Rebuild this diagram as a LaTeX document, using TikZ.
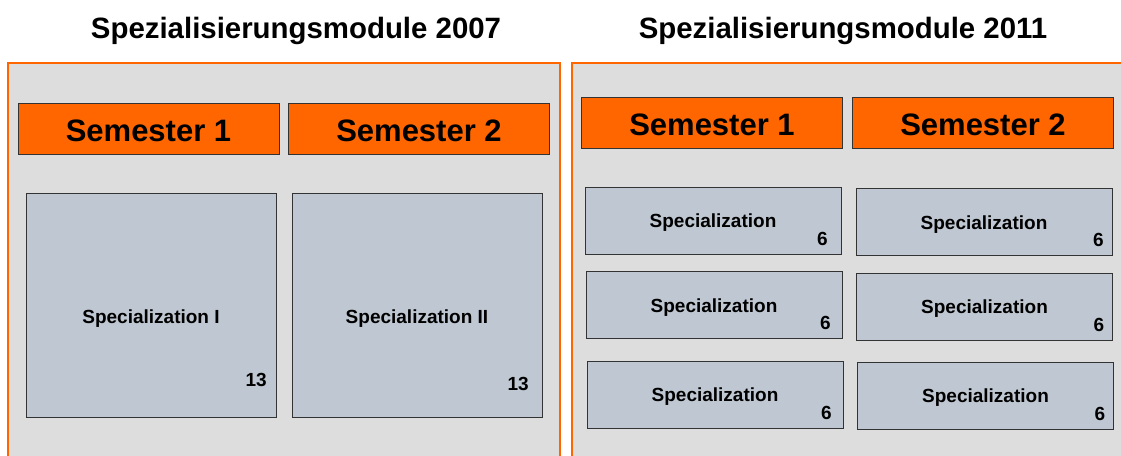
\documentclass[tikz,border=0pt]{standalone}
\usepackage{fontspec}
\setmainfont{Liberation Sans}
\definecolor{orng}{HTML}{FF6600}
\definecolor{panelgrey}{HTML}{DDDDDD}
\definecolor{boxblue}{HTML}{BFC8D2}
\definecolor{edge}{HTML}{333333}
\tikzset{
  panel/.style={draw=orng, line width=2pt, fill=panelgrey, inner sep=0, outer sep=0, anchor=north west},
  title/.style={font=\bfseries\fontsize{29.4}{34}\selectfont, anchor=base, inner sep=0},
  sem/.style={draw=edge, line width=1pt, fill=orng, inner sep=0, outer sep=0,
    minimum width=261pt, minimum height=51pt, text height=25pt, text depth=0pt,
    font=\bfseries\fontsize{31}{36}\selectfont},
  spec/.style={draw=edge, line width=1pt, fill=boxblue, inner sep=0, outer sep=0,
    minimum width=256pt, minimum height=67pt, text height=14pt, text depth=0pt,
    font=\bfseries\fontsize{19}{23}\selectfont},
  bigspec/.style={draw=edge, line width=1pt, fill=boxblue, inner sep=0, outer sep=0,
    minimum width=250pt, minimum height=224pt},
  lbl/.style={font=\bfseries\fontsize{19}{23}\selectfont, inner sep=0, anchor=base},
  credit/.style={font=\bfseries\fontsize{19}{23}\selectfont, inner sep=0, anchor=base east}
}
\begin{document}
\begin{tikzpicture}[x=1pt,y=-1pt]
\useasboundingbox (0,0) rectangle (1121,455);
\fill[white] (0,0) rectangle (1121,455);
% titles
\node[title] (t1) at (296,38) {Spezialisierungsmodule 2007};
\node[title] (t2) at (843,38) {Spezialisierungsmodule 2011};
% panels
\node[panel, minimum width=552pt, minimum height=410pt] (p1) at (8,63) {};
\node[panel, minimum width=560pt, minimum height=410pt] (p2) at (572,63) {};
% left panel semesters
\node[sem] (l1) at (148.5,128.5) {Semester 1};
\node[sem] (l2) at (419,129) {Semester 2};
% right panel semesters
\node[sem] (r1) at (712,122.5) {Semester 1};
\node[sem] (r2) at (983,122.5) {Semester 2};
% left big boxes
\node[bigspec] (s1) at (151,305) {};
\node[lbl] at ([yshift=-18pt]s1.center) {Specialization I};
\node[credit] at ([xshift=-9pt,yshift=31pt]s1.south east) {13};
\node[bigspec] (s2) at (417,305.5) {};
\node[lbl] at ([yshift=-18pt]s2.center) {Specialization II};
\node[credit] at ([xshift=-13pt,yshift=27pt]s2.south east) {13};
% right small boxes
\node[spec] (a1) at (713,220.5) {Specialization};
\node[credit] at ([xshift=-13pt,yshift=9pt]a1.south east) {6};
\node[spec] (a2) at (714,305) {Specialization};
\node[credit] at ([xshift=-11pt,yshift=9pt]a2.south east) {6};
\node[spec] (a3) at (715,394.5) {Specialization};
\node[credit] at ([xshift=-11pt,yshift=9pt]a3.south east) {6};
\node[spec] (b1) at (984,222) {Specialization};
\node[credit] at ([xshift=-8pt,yshift=9pt]b1.south east) {6};
\node[spec] (b2) at (984.5,306.5) {Specialization};
\node[credit] at ([xshift=-8pt,yshift=9pt]b2.south east) {6};
\node[spec] (b3) at (985.5,395.5) {Specialization};
\node[credit] at ([xshift=-8pt,yshift=9pt]b3.south east) {6};
\end{tikzpicture}
\end{document}
